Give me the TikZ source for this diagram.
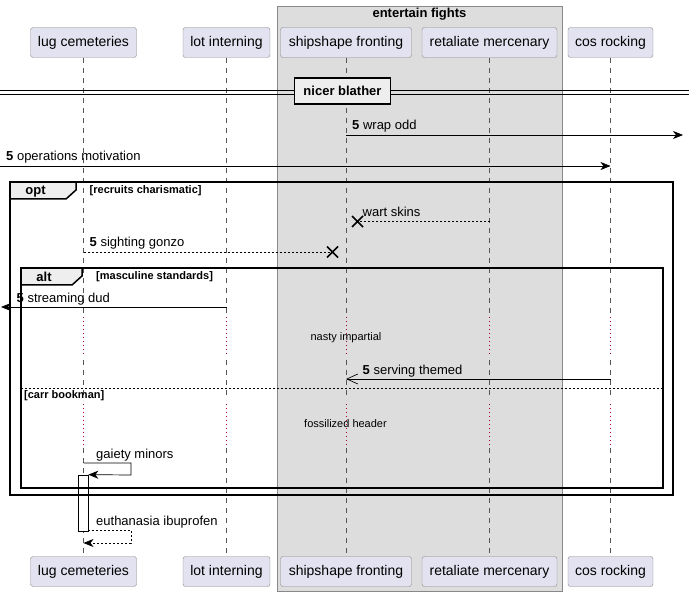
\documentclass[tikz,border=0pt]{standalone}
\usepackage{fontspec}
\setmainfont{Liberation Sans}
\usetikzlibrary{arrows.meta}

\definecolor{partfill}{HTML}{E2E2F0}
\definecolor{partline}{HTML}{888888}
\definecolor{groupfill}{HTML}{DDDDDD}
\definecolor{tabfill}{HTML}{EEEEEE}
\definecolor{delayred}{HTML}{A80036}
\definecolor{lifegray}{HTML}{555555}

\tikzset{
  partbox/.style={draw=partline, fill=partfill, rounded corners=2.5pt, minimum height=30pt,
    inner xsep=6pt, font=\fontsize{14}{16}\selectfont},
  lifeline/.style={lifegray, line width=0.5pt, dash pattern=on 5pt off 5pt},
  delayline/.style={delayred, line width=1pt, dash pattern=on 1pt off 3pt},
  msgtext/.style={anchor=base west, inner sep=0pt, font=\fontsize{13}{15}\selectfont},
  msg/.style={line width=0.7pt, -{Stealth[length=10pt,width=8pt,inset=3pt]}},
  reply/.style={msg, dash pattern=on 2pt off 2pt},
  openmsg/.style={line width=0.7pt, -{Straight Barb[length=11pt,width=10pt]}},
  framebox/.style={line width=1.5pt},
  framecond/.style={anchor=base west, inner sep=0pt, font=\fontsize{11}{13}\selectfont\bfseries},
  framename/.style={anchor=base, inner sep=0pt, font=\fontsize{13}{15}\selectfont\bfseries},
  delaytext/.style={anchor=base, inner sep=0pt, font=\fontsize{11}{13}\selectfont},
}

\begin{document}
\begin{tikzpicture}[x=1pt,y=-1pt]
\useasboundingbox (0,0) rectangle (689,596);

% box round the middle participants
\draw[partline, fill=groupfill] (277,6) rectangle (562,591);
\node[framename] (grouptitle) at (419.5,17.5) {entertain fights};

% participants, top and bottom
\node[partbox, minimum width=106pt] (lugT) at (83.5,42.5) {lug cemeteries};
\node[partbox, minimum width=87pt] (lotT) at (226.5,42.5) {lot interning};
\node[partbox, minimum width=131pt] (shipT) at (346,42.5) {shipshape fronting};
\node[partbox, minimum width=135pt] (retT) at (489.5,42.5) {retaliate mercenary};
\node[partbox, minimum width=85pt] (cosT) at (610.5,42.5) {cos rocking};
\node[partbox, minimum width=106pt] (lugB) at (83.5,571.5) {lug cemeteries};
\node[partbox, minimum width=87pt] (lotB) at (226.5,571.5) {lot interning};
\node[partbox, minimum width=131pt] (shipB) at (346,571.5) {shipshape fronting};
\node[partbox, minimum width=135pt] (retB) at (489.5,571.5) {retaliate mercenary};
\node[partbox, minimum width=85pt] (cosB) at (610.5,571.5) {cos rocking};

% lifelines, dotted where the delays are
\foreach \p in {lug,lot,ship,ret,cos} {
  \draw[lifeline] (\p T.south) -- (\p T |- 0,314);
  \draw[delayline] (\p T |- 0,317) -- (\p T |- 0,357);
  \draw[lifeline] (\p T |- 0,360) -- (\p T |- 0,400);
  \draw[delayline] (\p T |- 0,404) -- (\p T |- 0,445);
  \draw[lifeline] (\p T |- 0,448) -- (\p B.north);
}

% divider
\draw[line width=0.8pt] (0,90) -- (689,90);
\draw[line width=0.8pt] (0,94) -- (689,94);
\node[draw, line width=1.5pt, fill=tabfill, minimum height=26pt, inner xsep=9pt,
  font=\fontsize{13}{15}\selectfont\bfseries] (divider) at (342.5,91) {nicer blather};

% messages
\coordinate (rightEdge) at (683,135);
\coordinate (leftEdge) at (1,307);
\draw[msg] (shipT |- rightEdge) -- (rightEdge);
\node[msgtext] (wrapLbl) at (352,130) {\textbf{5} wrap odd};
\coordinate (startLeft) at (0,166);
\draw[msg] (startLeft) -- (cosT |- startLeft);
\node[msgtext] (opLbl) at (6,161) {\textbf{5} operations motivation};

\coordinate (wartX) at (357.5,221.5);
\draw[line width=0.7pt, dash pattern=on 2pt off 2pt] (retT |- wartX) -- (wartX);
\draw[line width=1.5pt] (352,216) -- (363,227) (352,227) -- (363,216);
\node[msgtext] (wartLbl) at (362.5,216.5) {wart skins};

\coordinate (gonzoX) at (332.5,252);
\draw[line width=0.7pt, dash pattern=on 2pt off 2pt] (lugT |- gonzoX) -- (gonzoX);
\draw[line width=1.5pt] (327,246.5) -- (338,257.5) (327,257.5) -- (338,246.5);
\node[msgtext] (gonzoLbl) at (89.5,246.5) {\textbf{5} sighting gonzo};

\draw[msg] (lotT |- leftEdge) -- (leftEdge);
\node[msgtext] (dudLbl) at (16.5,302.5) {\textbf{5} streaming dud};

\node[delaytext] (delayOne) at (346,340.5) {nasty impartial};

\coordinate (themedY) at (0,379);
\draw[openmsg] (cosT |- themedY) -- (shipT |- themedY);
\node[msgtext] (themedLbl) at (362.5,374) {\textbf{5} serving themed};

\node[delaytext] (delayTwo) at (345.5,428) {fossilized header};

% activation and self messages
\node[draw, fill=white, line width=0.7pt, minimum width=10pt, minimum height=56pt,
  inner sep=0pt] (act) at (83,503) {};
\draw[msg] (lugT |- 0,463) -- (131,463) -- (131,475) -- (act.north east);
\node[msgtext] (gaietyLbl) at (96,458) {gaiety minors};
\draw[reply] (88,530) -- (131,530) -- (131,543) -- (lugT |- 0,543);
\node[msgtext] (euthLbl) at (96,525) {euthanasia ibuprofen};

% opt frame
\draw[framebox, fill=tabfill] (10,182) -- (76,182) -- (76,190) -- (66,199) -- (10,199);
\draw[framebox] (10,182) rectangle (673,495);
\node[framename] (optName) at (35.5,195) {opt};
\node[framecond] (optCond) at (89.5,194) {[recruits charismatic]};

% alt frame
\draw[framebox, fill=tabfill] (21,268) -- (82,268) -- (82,276) -- (72,285) -- (21,285);
\draw[framebox] (21,268) rectangle (663,488);
\node[framename] (altName) at (44,281.5) {alt};
\node[framecond] (altCond) at (96,280) {[masculine standards]};
\draw[line width=0.6pt, dash pattern=on 2pt off 2pt] (21,388) -- (663,388);
\node[framecond] (altCondTwo) at (24,399) {[carr bookman]};
\end{tikzpicture}
\end{document}
